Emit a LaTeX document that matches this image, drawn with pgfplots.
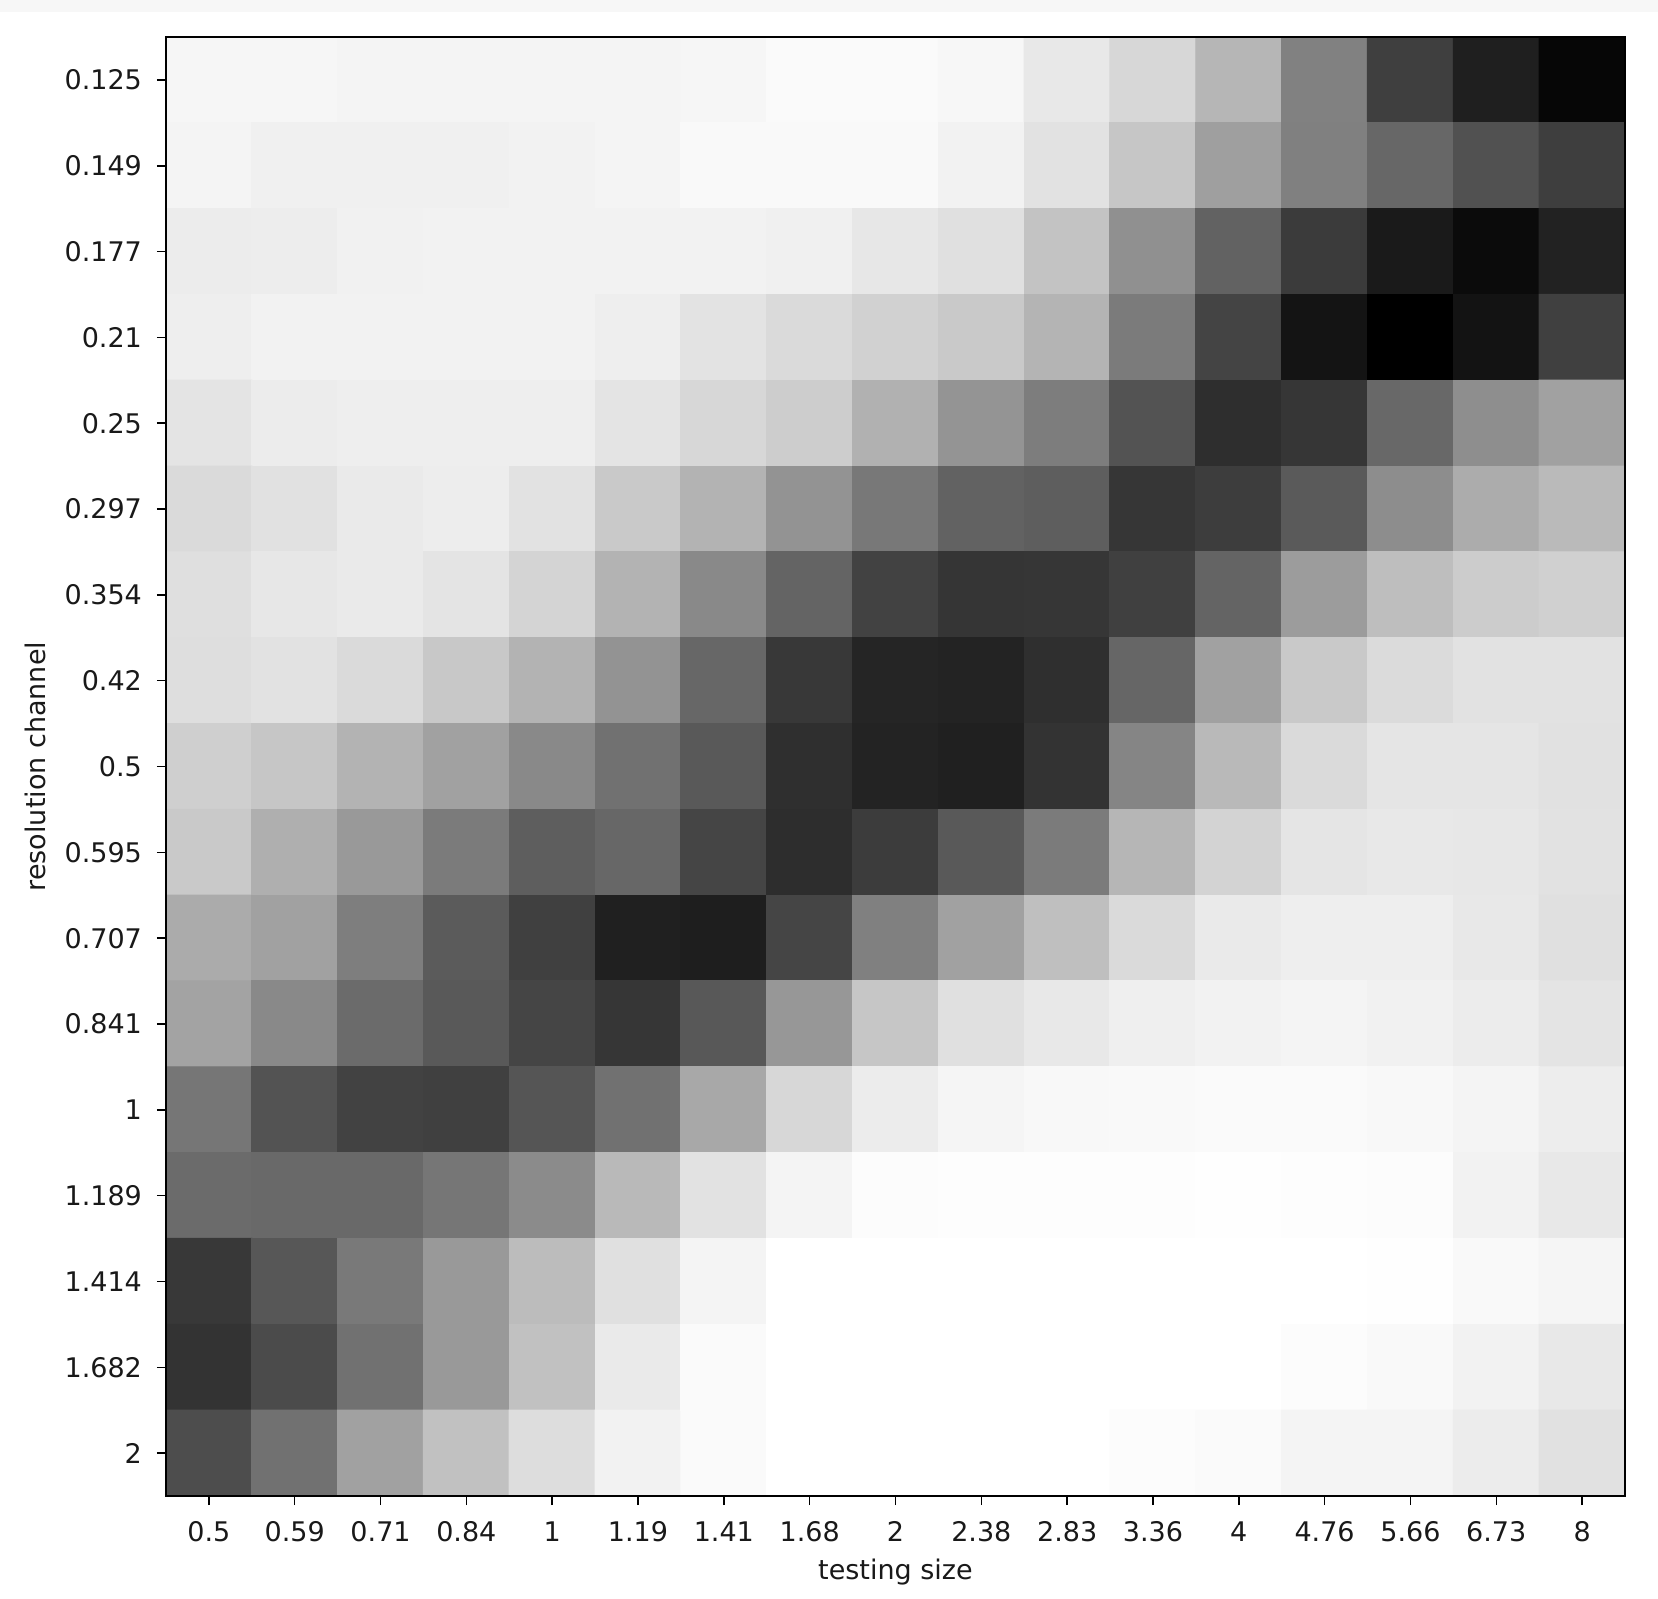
\documentclass[border=0pt]{standalone}
\usepackage{fontspec}
\setmainfont{DejaVu Sans}
\usepackage{pgfplots}
\pgfplotsset{compat=1.18}
\begin{document}
\begin{tikzpicture}
\useasboundingbox (-55.33pt,-34pt) rectangle (497.33pt,498.67pt);
\fill[black!3] (-55.33pt,494.67pt) rectangle (497.33pt,498.67pt);
\begin{axis}[
  at={(0,0)}, anchor=south west,
  scale only axis, width=486.33pt, height=486.33pt,
  xmin=-0.5, xmax=16.5, ymin=-0.5, ymax=16.5,
  y dir=reverse,
  axis on top,
  enlargelimits=false,
  colormap={bw}{gray(0cm)=(0); gray(1cm)=(1)},
  point meta min=0, point meta max=255,
  xtick={0,...,16}, ytick={0,...,16},
  xticklabels={0.5,0.59,0.71,0.84,1,1.19,1.41,1.68,2,2.38,2.83,3.36,4,4.76,5.66,6.73,8},
  yticklabels={0.125,0.149,0.177,0.21,0.25,0.297,0.354,0.42,0.5,0.595,0.707,0.841,1,1.189,1.414,1.682,2},
  tick align=outside, tick pos=left,
  major tick length=3pt,
  tick style={black, line width=0.5pt},
  axis line style={black, line width=0.6pt},
  /pgf/number format/assume math mode=true,
  tick label style={font=\fontsize{9}{10.8}\selectfont, text=black!90},
  label style={font=\fontsize{9}{10.8}\selectfont, text=black!90},
  xticklabel style={yshift=-2pt},
  yticklabel style={xshift=-1.5pt},
  xlabel={testing size}, ylabel={resolution channel},
  xlabel style={at={(axis description cs:0.5,-0.052)}, anchor=center},
  ylabel style={at={(axis description cs:-0.0898,0.5)}, anchor=center},
]
\addplot[matrix plot*, mesh/cols=17, mesh/rows=17, point meta=explicit, shader=flat corner] table[meta=c] {
x y c
0 0 244
1 0 244
2 0 242
3 0 242
4 0 242
5 0 242
6 0 244
7 0 248
8 0 248
9 0 245
10 0 230
11 0 213
12 0 181
13 0 128
14 0 63
15 0 31
16 0 6
0 1 242
1 1 238
2 1 238
3 1 238
4 1 240
5 1 242
6 1 247
7 1 247
8 1 247
9 1 240
10 1 224
11 1 197
12 1 158
13 1 127
14 1 102
15 1 80
16 1 62
0 2 234
1 2 235
2 2 239
3 2 240
4 2 240
5 2 240
6 2 240
7 2 238
8 2 229
9 2 222
10 2 194
11 2 143
12 2 97
13 2 59
14 2 26
15 2 11
16 2 34
0 3 236
1 3 240
2 3 240
3 3 240
4 3 240
5 3 236
6 3 225
7 3 216
8 3 208
9 3 200
10 3 179
11 3 122
12 3 68
13 3 20
14 3 0
15 3 19
16 3 64
0 4 226
1 4 234
2 4 236
3 4 236
4 4 236
5 4 226
6 4 213
7 4 204
8 4 176
9 4 147
10 4 124
11 4 82
12 4 46
13 4 54
14 4 103
15 4 141
16 4 160
0 5 216
1 5 223
2 5 232
3 5 235
4 5 224
5 5 200
6 5 178
7 5 146
8 5 119
9 5 97
10 5 93
11 5 54
12 5 61
13 5 89
14 5 140
15 5 171
16 5 185
0 6 221
1 6 229
2 6 232
3 6 226
4 6 211
5 6 178
6 6 136
7 6 99
8 6 66
9 6 53
10 6 54
11 6 64
12 6 99
13 6 155
14 6 189
15 6 203
16 6 207
0 7 220
1 7 224
2 7 216
3 7 199
4 7 178
5 7 146
6 7 102
7 7 56
8 7 37
9 7 35
10 7 47
11 7 101
12 7 160
13 7 200
14 7 217
15 7 224
16 7 224
0 8 206
1 8 197
2 8 178
3 8 160
4 8 136
5 8 112
6 8 88
7 8 47
8 8 35
9 8 32
10 8 51
11 8 132
12 8 184
13 8 216
14 8 227
15 8 227
16 8 223
0 9 200
1 9 174
2 9 152
3 9 122
4 9 93
5 9 102
6 9 69
7 9 45
8 9 60
9 9 88
10 9 122
11 9 181
12 9 210
13 9 227
14 9 230
15 9 229
16 9 224
0 10 170
1 10 160
2 10 125
3 10 90
4 10 64
5 10 32
6 10 30
7 10 69
8 10 127
9 10 160
10 10 190
11 10 216
12 10 232
13 10 236
14 10 236
15 10 230
16 10 222
0 11 162
1 11 136
2 11 106
3 11 88
4 11 69
5 11 54
6 11 87
7 11 150
8 11 197
9 11 222
10 11 230
11 11 237
12 11 240
13 11 242
14 11 239
15 11 234
16 11 226
0 12 117
1 12 82
2 12 66
3 12 64
4 12 84
5 12 112
6 12 167
7 12 213
8 12 234
9 12 243
10 12 246
11 12 247
12 12 248
13 12 248
14 12 246
15 12 242
16 12 235
0 13 106
1 13 104
2 13 104
3 13 117
4 13 138
5 13 184
6 13 224
7 13 242
8 13 250
9 13 251
10 13 251
11 13 251
12 13 252
13 13 251
14 13 250
15 13 240
16 13 230
0 14 56
1 14 86
2 14 120
3 14 152
4 14 187
5 14 222
6 14 242
7 14 253
8 14 255
9 14 255
10 14 255
11 14 255
12 14 255
13 14 254
14 14 252
15 14 247
16 14 243
0 15 51
1 15 74
2 15 112
3 15 152
4 15 192
5 15 232
6 15 248
7 15 253
8 15 255
9 15 255
10 15 255
11 15 254
12 15 253
13 15 250
14 15 247
15 15 240
16 15 230
0 16 76
1 16 112
2 16 160
3 16 192
4 16 219
5 16 240
6 16 248
7 16 254
8 16 255
9 16 255
10 16 254
11 16 250
12 16 248
13 16 242
14 16 242
15 16 234
16 16 223
};
\end{axis}
\end{tikzpicture}
\end{document}
